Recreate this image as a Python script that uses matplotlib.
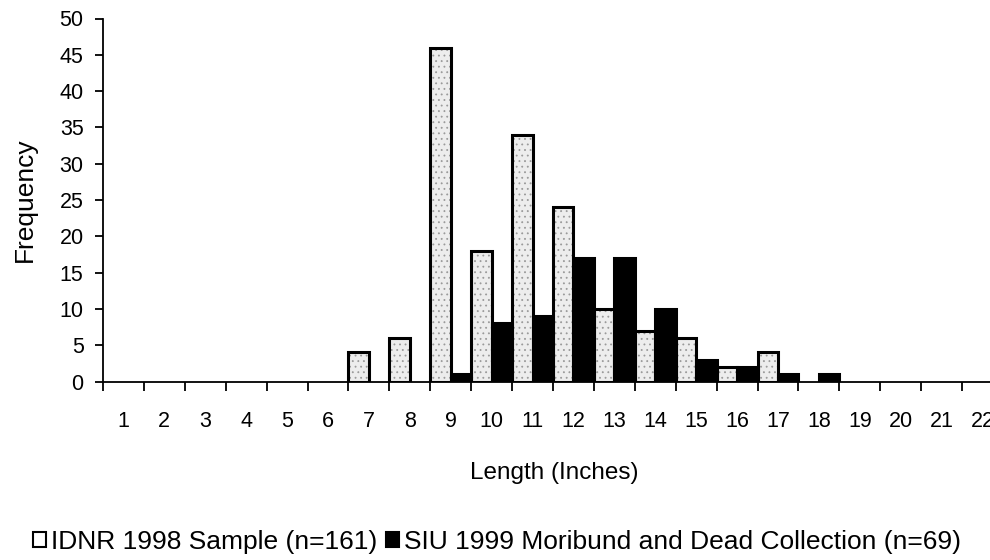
import matplotlib
matplotlib.use('Agg')
import matplotlib.pyplot as plt
from matplotlib.patches import Patch
import numpy as np

plt.rcParams['font.family'] = ['Liberation Sans', 'DejaVu Sans']
plt.rcParams['hatch.linewidth'] = 0.6

lengths = list(range(1, 23))
idnr_1998 = [0, 0, 0, 0, 0, 0, 4, 6, 46, 18, 34, 24, 10, 7, 6, 2, 4, 0, 0, 0, 0, 0]
siu_1999 = [0, 0, 0, 0, 0, 0, 0, 0, 1, 8, 9, 17, 17, 10, 3, 2, 1, 1, 0, 0, 0, 0]
y_ticks = list(range(0, 51, 5))
series_labels = ['IDNR 1998 Sample (n=161)',
                 'SIU 1999 Moribund and Dead Collection (n=69)']
x_label = 'Length (Inches)'
y_label = 'Frequency'

W, H = 990, 560
fig = plt.figure(figsize=(W / 100, H / 100), dpi=100)
ax = fig.add_axes([103 / W, 178.5 / H, 900 / W, 363 / H])

x = np.array(lengths, dtype=float)
idnr = np.array(idnr_1998, dtype=float)
siu = np.array(siu_1999, dtype=float)

m1 = idnr > 0
# stippled fill
ax.bar(x[m1] - 1, idnr[m1], width=0.5, align='edge', facecolor='#ededed',
       edgecolor='#9a9a9a', linewidth=0, hatch='...', zorder=1)
# outline
ax.bar(x[m1] - 1, idnr[m1], width=0.5, align='edge', fill=False,
       edgecolor='black', linewidth=2.2, zorder=2)
m2 = siu > 0
ax.bar(x[m2] - 0.5, siu[m2], width=0.5, align='edge', facecolor='black',
       edgecolor='black', linewidth=2.2, zorder=2)

ax.set_xlim(0, len(lengths))
ax.set_ylim(0, 50)
ax.set_yticks(y_ticks)
ax.set_xticks(np.arange(0, len(lengths) + 1))
ax.set_xticklabels([])
ax.set_xticks(x - 0.5, minor=True)
ax.set_xticklabels([str(v) for v in lengths], minor=True)

ax.tick_params(axis='x', which='major', direction='out', length=6.5, width=1.3)
ax.tick_params(axis='x', which='minor', length=0, pad=21, labelsize=15.5)
ax.tick_params(axis='y', direction='out', length=6, width=1.3, pad=8, labelsize=15.5)

for s in ['top', 'right']:
    ax.spines[s].set_visible(False)
for s in ['left', 'bottom']:
    ax.spines[s].set_linewidth(1.3)
    ax.spines[s].set_zorder(3)

ax.set_xlabel(x_label, fontsize=17.5)
ax.xaxis.set_label_coords((554 - 103) / 900, (381.5 - 462) / 363)
ax.set_ylabel(y_label, fontsize=19)
ax.yaxis.set_label_coords((37 - 103) / 900, 0.5)

handles = [Patch(facecolor='white', edgecolor='black', linewidth=1.5),
           Patch(facecolor='black', edgecolor='black', linewidth=1.5)]
fig.legend(handles, series_labels, loc='center left',
           bbox_to_anchor=(33 / W, 1 - 542 / H), ncol=2, frameon=False,
           fontsize=19, handlelength=0.5, handleheight=0.5,
           handletextpad=0.2, columnspacing=0.3, borderpad=0,
           borderaxespad=0)

fig.savefig('out.png', dpi=100)
